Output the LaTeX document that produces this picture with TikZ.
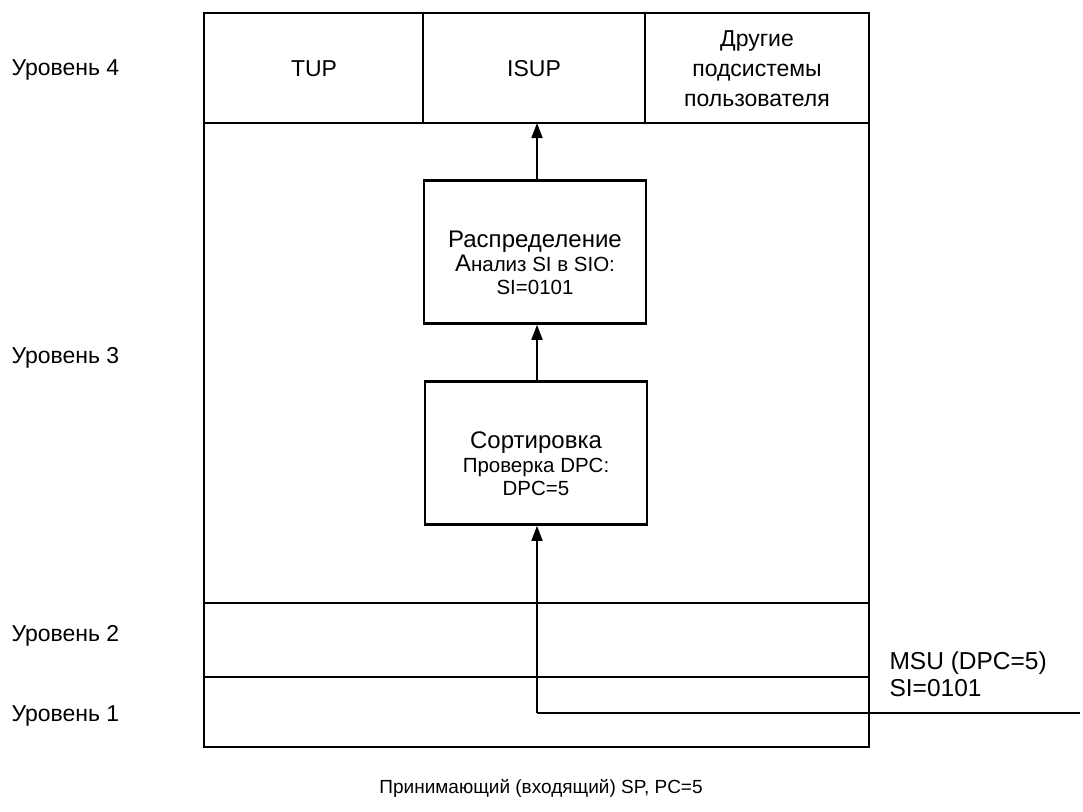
\documentclass[tikz,border=0pt]{standalone}
\usepackage{fontspec}
\setmainfont{Liberation Sans}
\usetikzlibrary{arrows.meta}
\begin{document}
\begin{tikzpicture}[x=1pt,y=-1pt,
  frame/.style={line width=2.8pt},
  lvl/.style={anchor=west,font=\fontsize{23}{28}\selectfont},
  big/.style={font=\fontsize{23}{30}\selectfont},
  blk/.style={draw,line width=2.6pt,minimum width=222pt,minimum height=143pt},
  blktxt/.style={align=center,font=\fontsize{20.5}{23.5}\selectfont},
  flow/.style={line width=1.8pt,-{Triangle[length=15pt,width=11pt]}}]
\newcommand\headtxt{\fontsize{24}{24}\selectfont}
\useasboundingbox (0,0) rectangle (1083,811);
% outer frame and level dividers
\draw[frame] (204,13) rectangle (869,747);
\draw[frame] (204,123) -- (869,123);
\draw[frame] (204,603) -- (869,603);
\draw[frame] (204,677) -- (869,677);
\draw[frame] (423,13) -- (423,123);
\draw[frame] (645,13) -- (645,123);
% level 4 user parts
\node[big] (tup) at (314,69) {TUP};
\node[big] (isup) at (534,69) {ISUP};
\node[big,align=center] (oth) at (757,69) {Другие\\подсистемы\\пользователя};
\coordinate (top) at (537,123);
% level 3 blocks
\node[blk] (dist) at (535,252) {};
\node[blktxt] (distT) at ([yshift=-11pt]dist.center) {{\headtxt Распределение}\\
  {\headtxt А}нализ SI в SIO:\\
  SI=0101};
\node[blk] (sort) at (536,453) {};
\node[blktxt] (sortT) at ([yshift=-11pt]sort.center) {{\headtxt Сортировка}\\
  Проверка DPC:\\
  DPC=5};
% level labels
\node[lvl] (l4) at (8,70) {Уровень 4};
\node[lvl] (l3) at (8,358) {Уровень 3};
\node[lvl] (l2) at (8,636) {Уровень 2};
\node[lvl] (l1) at (8,716) {Уровень 1};
% incoming message path
\coordinate (inR) at (1080,713);
\coordinate (inC) at (537,713);
\draw[line width=1.8pt] (inR) -- (inC);
\draw[flow] (inC) -- (sort.south -| inC);
\draw[flow] (sort.north -| inC) -- (dist.south -| inC);
\draw[flow] (dist.north -| inC) -- (top);
\node[anchor=west,align=left,font=\fontsize{24.5}{27}\selectfont] (msu) at (886,674) {MSU (DPC=5)\\SI=0101};
\node[font=\fontsize{19}{24}\selectfont] (sp) at (541,788) {Принимающий (входящий) SP, PC=5};
\end{tikzpicture}
\end{document}
